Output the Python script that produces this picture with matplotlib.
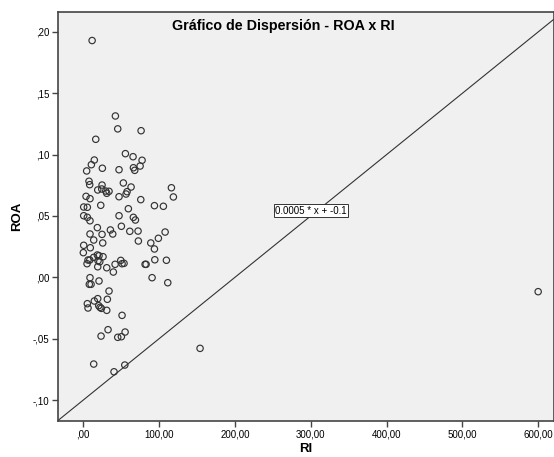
import matplotlib
matplotlib.use("Agg")
import matplotlib.pyplot as plt
from matplotlib.ticker import FixedLocator, FixedFormatter

plt.rcParams['font.family'] = ['Liberation Sans', 'DejaVu Sans']

# RI (x) and ROA (y)
ri = [11.6, 42.3, 45.4, 76.2, 16.4, 55.5, 65.6, 77.5, 14.5, 10.6,
      25.1, 4.4, 47.1, 66.1, 67.8, 74.9, 7.5, 8.4, 24.7, 19.0,
      24.3, 29.6, 33.9, 52.8, 63.0, 57.7, 56.4, 47.1, 30.9, 116.2,
      118.8, 3.6, 8.8, 75.8, 23.0, 0.5, 5.3, 93.8, 105.6, 59.4,
      0.5, 5.3, 8.8, 47.1, 66.0, 68.7, 18.5, 35.7, 50.2, 8.8,
      24.7, 38.8, 61.3, 72.2, 107.9, 13.7, 25.6, 72.6, 89.0, 99.0,
      93.8, 0.5, 9.2, 0.0, 13.7, 18.5, 20.7, 26.0, 6.2, 8.5,
      4.9, 19.4, 21.7, 19.0, 30.9, 39.6, 41.9, 49.4, 51.1, 53.7,
      81.5, 82.8, 94.3, 109.6, 90.7, 111.4, 8.8, 7.9, 10.2, 20.7,
      33.9, 5.3, 6.2, 14.5, 19.0, 20.3, 22.0, 23.8, 31.7, 30.9,
      51.1, 32.6, 23.4, 45.4, 50.2, 55.1, 13.7, 54.7, 40.5, 154.0,
      600.0]
roa = [0.193, 0.1315, 0.121, 0.1195, 0.1125, 0.1008, 0.0983, 0.0954, 0.0956, 0.0918,
       0.0889, 0.0867, 0.0877, 0.0893, 0.0872, 0.0907, 0.0783, 0.0755, 0.0752, 0.0712,
       0.072, 0.0703, 0.0701, 0.0769, 0.0736, 0.0698, 0.0679, 0.0657, 0.0685, 0.073,
       0.0655, 0.066, 0.0641, 0.0633, 0.0587, 0.0573, 0.0571, 0.0584, 0.0579, 0.0559,
       0.0502, 0.0489, 0.0461, 0.0502, 0.0489, 0.0467, 0.0405, 0.0386, 0.0416, 0.0353,
       0.035, 0.0353, 0.0375, 0.0377, 0.0369, 0.0304, 0.028, 0.0296, 0.028, 0.0318,
       0.0231, 0.0261, 0.0241, 0.0201, 0.0163, 0.0182, 0.0176, 0.0168, 0.0141, 0.0141,
       0.0111, 0.0135, 0.0127, 0.0086, 0.0078, 0.0043, 0.0106, 0.0138, 0.0111, 0.0114,
       0.0106, 0.0106, 0.0143, 0.0139, -0.0003, -0.0044, -0.0003, -0.0057, -0.0057, -0.003,
       -0.0112, -0.0215, -0.025, -0.0193, -0.0174, -0.0231, -0.0245, -0.0253, -0.0179, -0.0269,
       -0.031, -0.0427, -0.0479, -0.0489, -0.0484, -0.0446, -0.0707, -0.0715, -0.077, -0.0579,
       -0.0117]

# fitted line shown on the chart: 0.0005 * x + -0.1
slope = 0.0005
intercept = -0.1

xticks = [0, 100, 200, 300, 400, 500, 600]
xticklabels = [',00', '100,00', '200,00', '300,00', '400,00', '500,00', '600,00']
yticks = [-0.10, -0.05, 0.00, 0.05, 0.10, 0.15, 0.20]
yticklabels = ['-,10', '-,05', ',00', ',05', ',10', ',15', ',20']

xmin, xmax = -33.4, 620.9
ymin, ymax = -0.1171, 0.2165

fig = plt.figure(figsize=(5.54, 4.57), dpi=100)
ax = fig.add_axes([0.1047, 0.0788, 0.8953, 0.8956])
ax.set_facecolor('#f0f0f0')

ax.scatter(ri, roa, s=21, facecolors='none', edgecolors='#333333',
           linewidths=0.85, zorder=3)
ax.plot([xmin, xmax], [slope * xmin + intercept, slope * xmax + intercept],
        color='#333333', lw=0.8, zorder=2)

ax.text(300.7, slope * 300.7 + intercept + 0.004, '0.0005 * x + -0.1',
        fontsize=7, ha='center', va='center', zorder=4,
        bbox=dict(boxstyle='square,pad=0.12', fc='white', ec='#333333', lw=0.7))

ax.text(0.454, 0.965, 'Gráfico de Dispersión - ROA x RI', transform=ax.transAxes,
        ha='center', va='center', fontsize=10.3, fontweight='bold')

ax.set_xlim(xmin, xmax)
ax.set_ylim(ymin, ymax)
ax.xaxis.set_major_locator(FixedLocator(xticks))
ax.xaxis.set_major_formatter(FixedFormatter(xticklabels))
ax.yaxis.set_major_locator(FixedLocator(yticks))
ax.yaxis.set_major_formatter(FixedFormatter(yticklabels))
ax.tick_params(labelsize=7, length=4, width=1, color='#444444', pad=2)

for side in ax.spines.values():
    side.set_color('#444444')
    side.set_linewidth(1.2)

ax.set_xlabel('RI', fontsize=9.5, fontweight='bold', labelpad=3)
ax.set_ylabel('ROA', fontsize=9.5, fontweight='bold', labelpad=7)

fig.savefig('out.png', dpi=100)
